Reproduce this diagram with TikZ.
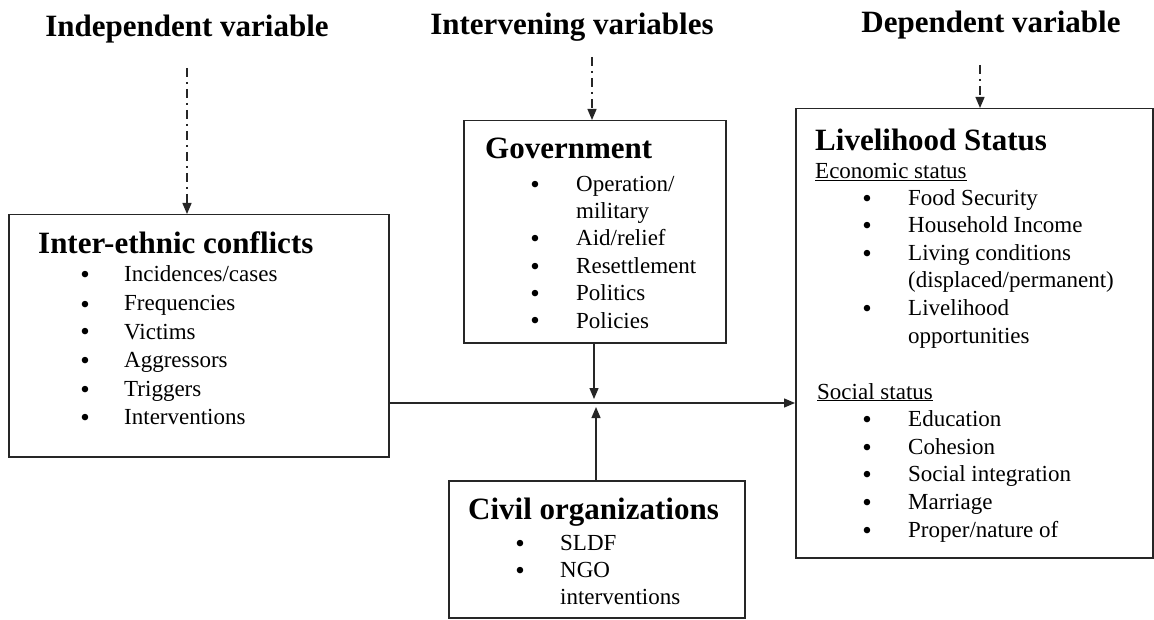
\documentclass[tikz,border=0pt]{standalone}
\usepackage{fontspec}
\setmainfont{Liberation Serif}
\usetikzlibrary{arrows.meta}

% one bulleted line: name, bullet x, text x, baseline y, text
\newcommand\bulletitem[5]{%
  \node[dot] (#1-dot) at (#2,#4) {•};
  \node[entry] (#1) at (#3,#4) {#5};}
% wrapped continuation of a bulleted line: name, text x, baseline y, text
\newcommand\contline[4]{\node[entry] (#1) at (#2,#3) {#4};}

\begin{document}
\begin{tikzpicture}[x=1pt,y=-1pt,
  box/.style={draw=black!85, line width=1.5pt, inner sep=0pt, anchor=north west},
  heading/.style={font=\fontsize{31}{36}\selectfont\bfseries, anchor=base, inner sep=0pt},
  boxtitle/.style={font=\fontsize{31}{36}\selectfont\bfseries, anchor=base west, inner sep=0pt},
  entry/.style={font=\fontsize{23}{27}\selectfont, anchor=base west, inner sep=0pt},
  dot/.style={font=\fontsize{27}{30}\selectfont, anchor=base, inner sep=0pt, yshift=-2pt},
  link/.style={line width=1.3pt, draw=black!85, -{Triangle[length=11pt,width=9pt]}},
  hint/.style={link, dash pattern=on 9pt off 5pt on 2pt off 5pt},
]
\useasboundingbox (0,0) rectangle (1154,620);

% column headings
\node[heading] (hind) at (187,37) {Independent variable};
\node[heading] (hint) at (572,35) {Intervening variables};
\node[heading] (hdep) at (991,33) {Dependent variable};

% frames
\node[box, minimum width=380pt, minimum height=242pt] (conf) at (8,214) {};
\node[box, minimum width=262pt, minimum height=222pt] (gov) at (463,120) {};
\node[box, minimum width=296pt, minimum height=137pt] (civ) at (448,480) {};
\node[box, minimum width=357pt, minimum height=449pt] (live) at (795,108) {};

% independent variable
\node[boxtitle] (conf-title) at (38,254) {Inter-ethnic conflicts};
\bulletitem{c1}{85}{124}{282}{Incidences/cases}
\bulletitem{c2}{85}{124}{311}{Frequencies}
\bulletitem{c3}{85}{124}{339}{Victims}
\bulletitem{c4}{85}{124}{367}{Aggressors}
\bulletitem{c5}{85}{124}{396}{Triggers}
\bulletitem{c6}{85}{124}{424}{Interventions}

% intervening variables
\node[boxtitle] (gov-title) at (485,159) {Government};
\bulletitem{g1}{535}{576}{192}{Operation/}
\contline{g1b}{576}{219}{military}
\bulletitem{g2}{535}{576}{246}{Aid/relief}
\bulletitem{g3}{535}{576}{274}{Resettlement}
\bulletitem{g4}{535}{576}{301}{Politics}
\bulletitem{g5}{535}{576}{328}{Policies}

\node[boxtitle] (civ-title) at (468,519) {Civil organizations};
\bulletitem{o1}{520}{560}{550}{SLDF}
\bulletitem{o2}{520}{560}{577}{NGO}
\contline{o2b}{560}{604}{interventions}

% dependent variable
\node[boxtitle] (live-title) at (815,151) {Livelihood Status};
\node[entry] (econ) at (815,179) {\underline{Economic status}};
\bulletitem{e1}{867}{908}{206}{Food Security}
\bulletitem{e2}{867}{908}{233}{Household Income}
\bulletitem{e3}{867}{908}{261}{Living conditions}
\contline{e3b}{908}{288}{(displaced/permanent)}
\bulletitem{e4}{867}{908}{316}{Livelihood}
\contline{e4b}{908}{343}{opportunities}
\node[entry] (soc) at (817,399) {\underline{Social status}};
\bulletitem{s1}{867}{908}{426}{Education}
\bulletitem{s2}{867}{908}{454}{Cohesion}
\bulletitem{s3}{867}{908}{481}{Social integration}
\bulletitem{s4}{867}{908}{509}{Marriage}
\bulletitem{s5}{867}{908}{537}{Proper/nature of}

% connectors
\coordinate (d1) at (187,68);
\coordinate (d2) at (592,57);
\coordinate (d3) at (980,65);
\coordinate (axis) at (0,403);
\coordinate (meetA) at (594,399);
\coordinate (meetB) at (596,407);

\draw[hint] (d1) -- (d1 |- conf.north);
\draw[hint] (d2) -- (d2 |- gov.north);
\draw[hint] (d3) -- (d3 |- live.north);

\draw[link] (conf.east |- axis) -- (live.west |- axis);
\draw[link] (meetA |- gov.south) -- (meetA);
\draw[link] (meetB |- civ.north) -- (meetB);
\end{tikzpicture}
\end{document}
